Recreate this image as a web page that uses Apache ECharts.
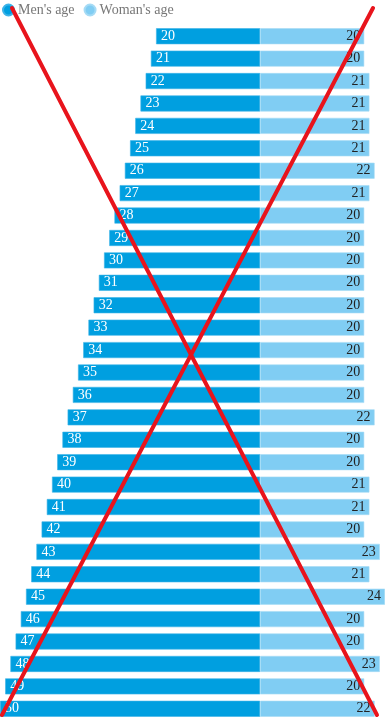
<!DOCTYPE html>
<html>
<head>
<meta charset="utf-8">
<script src="https://cdn.jsdelivr.net/npm/echarts@6/dist/echarts.min.js"></script>
<style>
html,body{margin:0;padding:0;background:#fff;overflow:hidden;}
#chart{width:385px;height:720px;}
</style>
</head>
<body>
<div id="chart"></div>
<script>
// Data
const mensAge = [20,21,22,23,24,25,26,27,28,29,30,31,32,33,34,35,36,37,38,39,40,41,42,43,44,45,46,47,48,49,50];
const womansAge = [20,20,21,21,21,21,22,21,20,20,20,20,20,20,20,20,20,22,20,20,21,21,20,23,21,24,20,20,23,20,22];
const seriesNames = ["Men's age", "Woman's age"];

const categories = mensAge.map(String);
const chart = echarts.init(document.getElementById('chart'), null, {renderer: 'canvas'});
const serif = '"Liberation Serif", "DejaVu Serif", serif';

chart.setOption({
  animation: false,
  color: ['#009fe0', '#80cdf3'],
  legend: {
    left: 2, top: 3, padding: 0,
    icon: 'circle',
    itemWidth: 11, itemHeight: 11,
    itemGap: 9,
    textStyle: {color: '#777', fontFamily: serif, fontSize: 14, padding: [0, 0, 0, -1]},
    data: seriesNames
  },
  grid: {left: 0, right: 0, top: 25, height: 699, containLabel: false},
  xAxis: {
    type: 'value', min: -50, max: 24,
    show: false
  },
  yAxis: {
    type: 'category', data: categories, inverse: true,
    show: false
  },
  series: [
    {
      name: seriesNames[0], type: 'bar', stack: 'a', barWidth: 16,
      data: mensAge.map(v => -v),
      itemStyle: {borderColor: '#3db3e8', borderWidth: 0.6},
      label: {show: true, position: 'insideLeft', distance: 5, color: '#fff',
        fontFamily: serif, fontSize: 14, formatter: p => Math.abs(p.value)}
    },
    {
      name: seriesNames[1], type: 'bar', stack: 'a', barWidth: 16,
      data: womansAge,
      itemStyle: {borderColor: '#a6dbf5', borderWidth: 0.6},
      label: {show: true, position: 'insideRight', distance: 4, color: '#222',
        fontFamily: serif, fontSize: 14}
    }
  ],
  graphic: [
    {type: 'line', z: 100, shape: {x1: 12, y1: 8, x2: 377, y2: 715},
      style: {stroke: '#e8141c', lineWidth: 4, lineCap: 'round'}},
    {type: 'line', z: 100, shape: {x1: 373, y1: 8, x2: 2, y2: 715},
      style: {stroke: '#e8141c', lineWidth: 4, lineCap: 'round'}}
  ]
});
</script>
</body>
</html>
